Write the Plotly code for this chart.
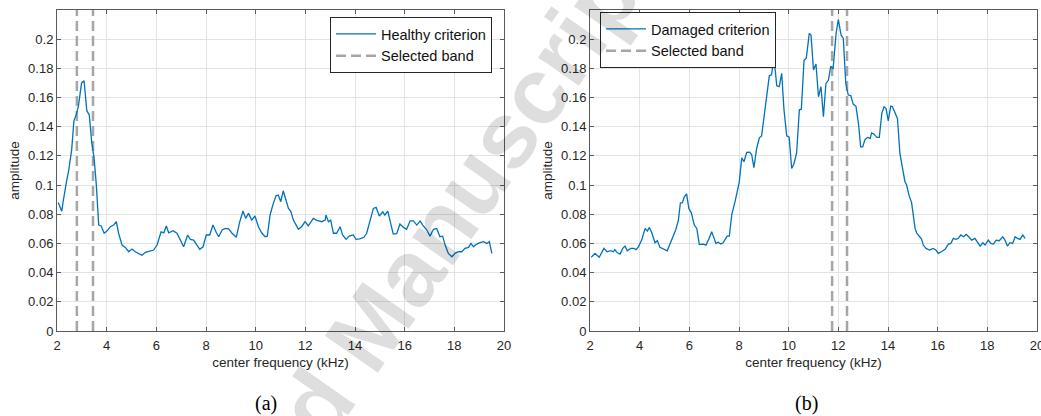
import plotly.graph_objects as go

# ---------------- data ----------------
healthy_freq = [2.05, 2.12, 2.19, 2.25, 2.33, 2.39, 2.47, 2.52, 2.59, 2.68, 2.77, 2.86, 2.93, 2.99,
                3.09, 3.2, 3.3, 3.4, 3.49, 3.58, 3.68, 3.78, 3.9, 4.01, 4.15, 4.28, 4.39, 4.48,
                4.62, 4.75, 4.89, 5.02, 5.15, 5.29, 5.42, 5.56, 5.73, 5.89, 6.03, 6.19, 6.3, 6.4,
                6.5, 6.67, 6.83, 6.97, 7.1, 7.26, 7.37, 7.5, 7.64, 7.75, 7.88, 8.01, 8.15, 8.28,
                8.42, 8.51, 8.65, 8.78, 8.91, 9.05, 9.22, 9.36, 9.49, 9.6, 9.71, 9.84, 9.97, 10.11,
                10.24, 10.38, 10.47, 10.58, 10.71, 10.82, 10.91, 11.01, 11.11, 11.22, 11.32, 11.41,
                11.52, 11.63, 11.72, 11.85, 11.99, 12.12, 12.22, 12.32, 12.46, 12.66, 12.8, 12.83,
                12.93, 13.02, 13.13, 13.26, 13.4, 13.5, 13.64, 13.77, 13.93, 14.04, 14.19, 14.36,
                14.47, 14.61, 14.74, 14.85, 14.98, 15.12, 15.2, 15.32, 15.41, 15.54, 15.68, 15.81,
                15.95, 16.08, 16.22, 16.35, 16.49, 16.62, 16.73, 16.89, 17.02, 17.16, 17.29, 17.42,
                17.53, 17.63, 17.76, 17.9, 18.03, 18.16, 18.3, 18.43, 18.57, 18.67, 18.77, 18.9,
                19.04, 19.17, 19.31, 19.41, 19.51]
healthy_amp = [0.088, 0.085, 0.082, 0.089, 0.099, 0.103, 0.110, 0.115, 0.124, 0.144, 0.148, 0.154,
               0.162, 0.170, 0.1715, 0.151, 0.148, 0.129, 0.119, 0.101, 0.0726, 0.072, 0.067,
               0.0685, 0.0715, 0.0726, 0.0749, 0.067, 0.0589, 0.0573, 0.0543, 0.0562, 0.0543,
               0.0532, 0.0519, 0.0539, 0.0548, 0.0555, 0.0589, 0.068, 0.0673, 0.072, 0.0673,
               0.0687, 0.067, 0.0623, 0.0577, 0.0658, 0.0628, 0.0623, 0.0589, 0.056, 0.0577,
               0.0658, 0.0658, 0.0726, 0.0673, 0.0646, 0.0692, 0.0703, 0.070, 0.067, 0.0642,
               0.0749, 0.0822, 0.0772, 0.0806, 0.076, 0.0788, 0.0715, 0.0673, 0.0646, 0.065,
               0.0795, 0.0875, 0.0927, 0.0932, 0.0886, 0.0961, 0.0897, 0.084, 0.0822, 0.076,
               0.0726, 0.0697, 0.0715, 0.0749, 0.072, 0.0749, 0.0772, 0.0758, 0.0749, 0.076,
               0.0795, 0.0749, 0.076, 0.067, 0.067, 0.0715, 0.0658, 0.0628, 0.065, 0.0658,
               0.0628, 0.0632, 0.0642, 0.067, 0.0749, 0.084, 0.0847, 0.0788, 0.0817, 0.0795,
               0.0822, 0.0749, 0.0664, 0.0667, 0.0733, 0.071, 0.0697, 0.0755, 0.0755, 0.0726,
               0.0753, 0.0726, 0.0692, 0.065, 0.0697, 0.0703, 0.0646, 0.065, 0.0589, 0.0532,
               0.0509, 0.0532, 0.0543, 0.0543, 0.0566, 0.0573, 0.060, 0.0577, 0.0596, 0.0605,
               0.0612, 0.060, 0.0612, 0.0532]

damaged_freq = [2.05, 2.2, 2.37, 2.56, 2.69, 2.83, 2.94, 3.0, 3.1, 3.21, 3.32, 3.41, 3.5, 3.64,
                3.77, 3.85, 3.95, 4.08, 4.22, 4.31, 4.39, 4.48, 4.62, 4.71, 4.82, 4.98, 5.11,
                5.22, 5.35, 5.45, 5.56, 5.64, 5.72, 5.8, 5.89, 5.98, 6.08, 6.2, 6.3, 6.4, 6.56,
                6.67, 6.8, 6.9, 7.0, 7.07, 7.16, 7.26, 7.36, 7.45, 7.52, 7.61, 7.71, 7.84, 7.94,
                8.01, 8.11, 8.2, 8.31, 8.42, 8.51, 8.6, 8.71, 8.82, 8.91, 9.01, 9.12, 9.22, 9.31,
                9.41, 9.52, 9.62, 9.72, 9.81, 9.92, 10.02, 10.12, 10.21, 10.32, 10.43, 10.51,
                10.62, 10.71, 10.83, 10.9, 11.0, 11.1, 11.2, 11.3, 11.4, 11.5, 11.6, 11.69, 11.79,
                11.91, 12.0, 12.11, 12.2, 12.3, 12.4, 12.5, 12.6, 12.71, 12.81, 12.9, 12.98,
                13.07, 13.17, 13.28, 13.34, 13.44, 13.55, 13.65, 13.75, 13.84, 13.92, 14.01,
                14.11, 14.18, 14.28, 14.38, 14.48, 14.59, 14.68, 14.75, 14.85, 14.95, 15.09,
                15.16, 15.26, 15.35, 15.42, 15.53, 15.67, 15.81, 15.93, 16.03, 16.15, 16.3,
                16.43, 16.53, 16.63, 16.74, 16.83, 16.93, 17.04, 17.15, 17.25, 17.37, 17.5,
                17.6, 17.71, 17.82, 17.91, 18.04, 18.14, 18.25, 18.35, 18.48, 18.62, 18.71,
                18.81, 18.91, 19.02, 19.12, 19.21, 19.32, 19.43, 19.52]
damaged_amp = [0.0505, 0.0532, 0.0505, 0.0566, 0.0543, 0.055, 0.0543, 0.0558, 0.0536, 0.0527,
               0.0566, 0.0582, 0.055, 0.0566, 0.0566, 0.0558, 0.0577, 0.0623, 0.0703, 0.0685,
               0.071, 0.0677, 0.0605, 0.0619, 0.0573, 0.0558, 0.055, 0.0596, 0.0658, 0.0692,
               0.076, 0.0879, 0.088, 0.092, 0.094, 0.084, 0.081, 0.0726, 0.0703, 0.0594,
               0.0596, 0.0589, 0.0635, 0.068, 0.0635, 0.060, 0.0608, 0.0596, 0.0605, 0.0635,
               0.065, 0.065, 0.0800, 0.0886, 0.097, 0.102, 0.1187, 0.116, 0.1224, 0.1226,
               0.121, 0.1119, 0.1251, 0.1324, 0.1337, 0.148, 0.1594, 0.1749, 0.1756, 0.1872,
               0.168, 0.1675, 0.1765, 0.152, 0.1338, 0.1329, 0.1114, 0.1145, 0.122, 0.1516,
               0.152, 0.1856, 0.187, 0.204, 0.2028, 0.1789, 0.183, 0.1605, 0.1675, 0.1468,
               0.1697, 0.1718, 0.181, 0.180, 0.204, 0.2135, 0.2028, 0.2005, 0.1697, 0.1617,
               0.1613, 0.1555, 0.154, 0.1423, 0.1262, 0.1262, 0.131, 0.1327, 0.132, 0.1358,
               0.1349, 0.1327, 0.1327, 0.149, 0.1537, 0.1526, 0.144, 0.1541, 0.1537, 0.149,
               0.1457, 0.1217, 0.1125, 0.1025, 0.100, 0.0928, 0.088, 0.0703, 0.067, 0.0646,
               0.063, 0.0589, 0.0566, 0.0555, 0.0566, 0.0555, 0.0532, 0.0543, 0.056, 0.0596,
               0.060, 0.0635, 0.0628, 0.0635, 0.0658, 0.0646, 0.0662, 0.0646, 0.0623, 0.0635,
               0.0612, 0.0582, 0.0605, 0.0589, 0.0623, 0.060, 0.0596, 0.0623, 0.0619, 0.0646,
               0.0623, 0.0582, 0.0605, 0.060, 0.0646, 0.0635, 0.0628, 0.0658, 0.0635]

healthy_band = [2.8, 3.45]
damaged_band = [11.75, 12.35]

x_ticks = [2, 4, 6, 8, 10, 12, 14, 16, 18, 20]
y_ticks = [0, 0.02, 0.04, 0.06, 0.08, 0.1, 0.12, 0.14, 0.16, 0.18, 0.2]
y_ticktext = ["0", "0.02", "0.04", "0.06", "0.08", "0.1", "0.12", "0.14", "0.16", "0.18", "0.2"]
x_range = [2, 20]
y_range = [0, 0.22]

# ---------------- style ----------------
BLUE = "#0072BD"
GRAY = "#A6A6A6"
FONT = "Liberation Sans, Arial, sans-serif"
TXT = "#262626"
W, H = 1041, 416

fig = go.Figure()

# band lines (drawn first, under the curve)
for i, b in enumerate(healthy_band):
    fig.add_trace(go.Scatter(x=[b, b], y=y_range, mode="lines",
                             line=dict(color=GRAY, width=2.5, dash="10px,5px"),
                             name="Selected band", showlegend=(i == 0), legend="legend",
                             legendrank=2, xaxis="x", yaxis="y"))
for i, b in enumerate(damaged_band):
    fig.add_trace(go.Scatter(x=[b, b], y=y_range, mode="lines",
                             line=dict(color=GRAY, width=2.5, dash="10px,5px"),
                             name="Selected band", showlegend=(i == 0), legend="legend2",
                             legendrank=2, xaxis="x2", yaxis="y2"))

fig.add_trace(go.Scatter(x=healthy_freq, y=healthy_amp, mode="lines",
                         line=dict(color=BLUE, width=1.3), name="Healthy criterion",
                         legend="legend", legendrank=1, xaxis="x", yaxis="y"))
fig.add_trace(go.Scatter(x=damaged_freq, y=damaged_amp, mode="lines",
                         line=dict(color=BLUE, width=1.3), name="Damaged criterion",
                         legend="legend2", legendrank=1, xaxis="x2", yaxis="y2"))

def xax(domain, anchor):
    return dict(domain=domain, anchor=anchor, range=x_range, tickvals=x_ticks,
                showgrid=True, gridcolor="#E3E3E3", gridwidth=1, zeroline=False,
                showline=True, linecolor="#5A5A5A", linewidth=1, mirror="allticks",
                ticks="inside", ticklen=4, tickcolor="#5A5A5A",
                tickfont=dict(family=FONT, size=13, color=TXT),
                ticklabeloverflow="allow", ticklabelstandoff=2,
                title=dict(text="center frequency (kHz)", standoff=5,
                           font=dict(family=FONT, size=13.5, color=TXT)),
                automargin=False, fixedrange=True)

def yax(anchor):
    return dict(domain=[85 / H, 1 - 10 / H], anchor=anchor, range=y_range,
                tickvals=y_ticks, ticktext=y_ticktext,
                showgrid=True, gridcolor="#E3E3E3", gridwidth=1, zeroline=False,
                showline=True, linecolor="#5A5A5A", linewidth=1, mirror="allticks",
                ticks="inside", ticklen=4, tickcolor="#5A5A5A",
                tickfont=dict(family=FONT, size=13, color=TXT),
                title=dict(text="amplitude", standoff=5,
                           font=dict(family=FONT, size=13.5, color=TXT)),
                automargin=False, fixedrange=True)

legend_common = dict(bgcolor="white", bordercolor="#262626", borderwidth=1,
                     font=dict(family=FONT, size=14.5, color="#111111"),
                     itemwidth=40, tracegroupgap=0, traceorder="normal")

serif = "Liberation Serif, Times New Roman, serif"

fig.update_layout(
    width=W, height=H,
    margin=dict(l=0, r=0, t=0, b=0),
    paper_bgcolor="white", plot_bgcolor="white",
    font=dict(family=FONT, color=TXT),
    xaxis=xax([57 / W, 504 / W], "y"),
    yaxis=yax("x"),
    xaxis2=xax([590 / W, 1037 / W], "y2"),
    yaxis2=yax("x2"),
    legend=dict(x=492 / W, y=1 - 17 / H, xanchor="right", yanchor="top", **legend_common),
    legend2=dict(x=600 / W, y=1 - 12 / H, xanchor="left", yanchor="top", **legend_common),
    annotations=[
        dict(text="(a)", x=266 / W, y=1 - 403 / H, xref="paper", yref="paper",
             xanchor="center", yanchor="middle", showarrow=False,
             font=dict(family=serif, size=20, color="black")),
        dict(text="(b)", x=806 / W, y=1 - 403 / H, xref="paper", yref="paper",
             xanchor="center", yanchor="middle", showarrow=False,
             font=dict(family=serif, size=20, color="black")),
        dict(text="<b>Accepted Manuscript</b>", x=362 / W, y=1 - 338 / H,
             xref="paper", yref="paper", xanchor="center", yanchor="middle",
             showarrow=False, textangle=-55,
             font=dict(family=FONT, size=94, color="rgba(0,0,0,0.13)")),
    ],
)

fig.write_html("out.html")
